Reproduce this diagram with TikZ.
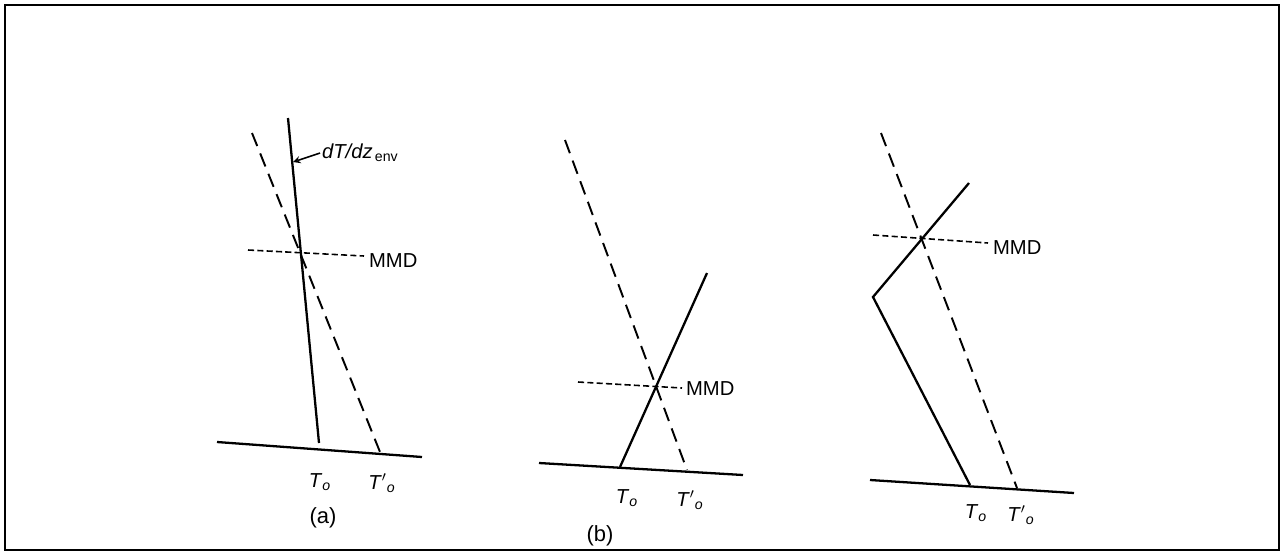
\documentclass[tikz,border=0pt]{standalone}
\usepackage{fontspec}
\setmainfont{Liberation Sans}
\usepackage{tikz}
\usetikzlibrary{arrows, positioning, calc}

\begin{document}
\begin{tikzpicture}[
    x=0.02cm, y=-0.02cm,
    ground/.style={line width=1.3pt},
    profile/.style={line width=1.3pt, line join=miter},
    adiabat/.style={line width=1.1pt, dash pattern=on 8pt off 4.5pt},
    mmdline/.style={line width=0.9pt, dash pattern=on 3.5pt off 1.8pt},
    lbl/.style={font=\fontsize{11.5}{13}\selectfont, inner sep=1pt},
    arrow/.style={line width=0.9pt,->,>=stealth}
]
\useasboundingbox (0,0) rectangle (1282,552);
\draw[line width=1.3pt] (5,5) rectangle (1279,550);

% panel (a)
\coordinate (a-gl) at (217,442);
\coordinate (a-gr) at (422,457);
\coordinate (a-env-top) at (288,118);
\coordinate (a-env-bot) at (319,443);
\coordinate (a-ad-top) at (252,133);
\coordinate (a-ad-bot) at (380,452);
\coordinate (a-mmd-l) at (248,250);
\coordinate (a-mmd-r) at (364,256);
\coordinate (a-tip) at (293,162);

\draw[ground] (a-gl) -- (a-gr);
\draw[profile] (a-env-top) -- (a-env-bot);
\draw[adiabat] (a-ad-top) -- (a-ad-bot);
\draw[mmdline] (a-mmd-l) -- (a-mmd-r);
\node[lbl, anchor=west] (a-mmd) at (367,261) {MMD};
\node[lbl, anchor=west] (a-env) at (320,153) {\textit{dT/dz}\textsubscript{\,env}};
\draw[arrow] (a-env.west) -- (a-tip);
\node[lbl] (a-to) at (320,482) {\textit{T}\textsubscript{\textit{o}}};
\node[lbl] (a-top) at (382,483) {\textit{T}$'$\textsubscript{\textit{o}}};
\node[lbl, font=\fontsize{12.5}{14}\selectfont] (a-cap) at (323,518) {(a)};

% panel (b)
\coordinate (b-gl) at (539,463);
\coordinate (b-gr) at (743,475);
\coordinate (b-env-top) at (707,273);
\coordinate (b-env-bot) at (620,467);
\coordinate (b-ad-top) at (565,140);
\coordinate (b-ad-bot) at (687,470);
\coordinate (b-mmd-l) at (578,382);
\coordinate (b-mmd-r) at (682,388);

\draw[ground] (b-gl) -- (b-gr);
\draw[profile] (b-env-top) -- (b-env-bot);
\draw[adiabat] (b-ad-top) -- (b-ad-bot);
\draw[mmdline] (b-mmd-l) -- (b-mmd-r);
\node[lbl, anchor=west] (b-mmd) at (684,389) {MMD};
\node[lbl] (b-to) at (627,498) {\textit{T}\textsubscript{\textit{o}}};
\node[lbl] (b-top) at (690,500) {\textit{T}$'$\textsubscript{\textit{o}}};
\node[lbl, font=\fontsize{12.5}{14}\selectfont] (b-cap) at (600,536) {(b)};

% panel (c)
\coordinate (c-gl) at (870,480);
\coordinate (c-gr) at (1074,493);
\coordinate (c-env-top) at (969,183);
\coordinate (c-env-kink) at (873,297);
\coordinate (c-env-bot) at (970,485);
\coordinate (c-ad-top) at (881,133);
\coordinate (c-ad-bot) at (1017,488);
\coordinate (c-mmd-l) at (873,235);
\coordinate (c-mmd-r) at (988,243);

\draw[ground] (c-gl) -- (c-gr);
\draw[profile] (c-env-top) -- (c-env-kink) -- (c-env-bot);
\draw[adiabat] (c-ad-top) -- (c-ad-bot);
\draw[mmdline] (c-mmd-l) -- (c-mmd-r);
\node[lbl, anchor=west] (c-mmd) at (991,248) {MMD};
\node[lbl] (c-to) at (976,513) {\textit{T}\textsubscript{\textit{o}}};
\node[lbl] (c-top) at (1021,515) {\textit{T}$'$\textsubscript{\textit{o}}};

\end{tikzpicture}
\end{document}
